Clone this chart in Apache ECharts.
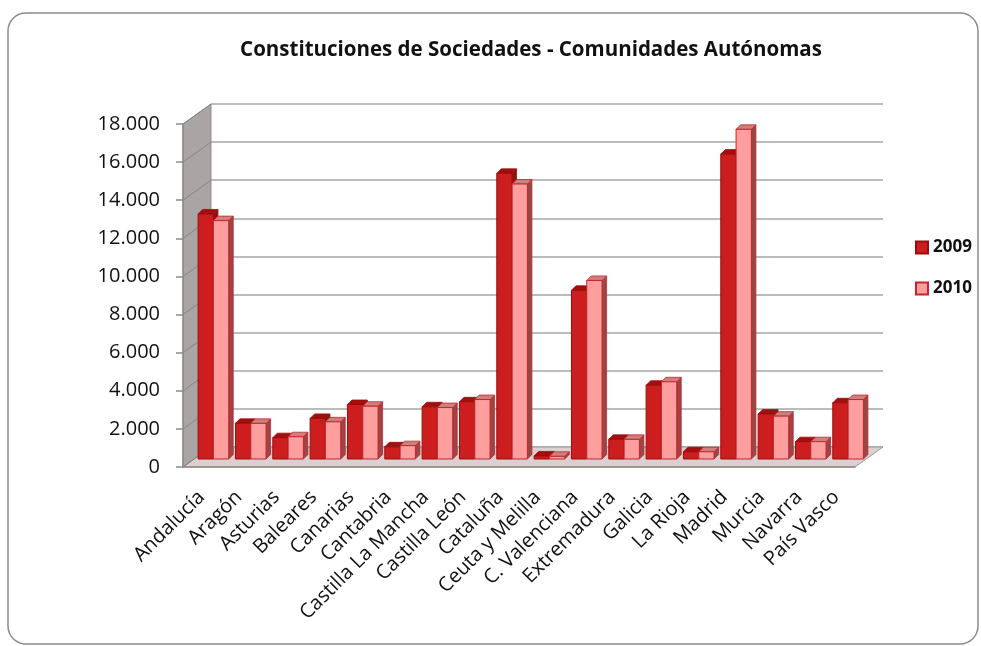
<!DOCTYPE html>
<html>
<head>
    <meta charset="utf-8">
    <title>Constituciones de Sociedades</title>
    <script src="https://cdn.jsdelivr.net/npm/echarts@6/dist/echarts.min.js"></script>
    <style>
        html, body { margin: 0; padding: 0; background: #fff; }
    </style>
</head>
<body>
    <div id="main" style="width: 981px;height:646px;"></div>
    <script type="text/javascript">
        // datos
        var categories = ['Andalucía', 'Aragón', 'Asturias', 'Baleares', 'Canarias', 'Cantabria',
            'Castilla La Mancha', 'Castilla León', 'Cataluña', 'Ceuta y Melilla', 'C. Valenciana',
            'Extremadura', 'Galicia', 'La Rioja', 'Madrid', 'Murcia', 'Navarra', 'País Vasco'];
        var years = ['2009', '2010'];
        var values2009 = [12860, 1870, 1120, 2130, 2860, 640, 2740, 3000, 14990, 160, 8850, 1030, 3870, 380, 16000, 2360, 910, 2950];
        var values2010 = [12510, 1870, 1170, 1950, 2770, 700, 2700, 3120, 14430, 140, 9370, 1030, 4050, 380, 17300, 2250, 910, 3120];
        var yMax = 18000, yStep = 2000;

        // layout (pseudo 3D): front plane, depth offset of the back wall
        var L = 183, T = 124, W = 672, H = 343;
        var DX = 28, DY = 20;           // back wall offset
        var MX = 14, MY = 8;            // bars plane offset

        var FONT = '"Open Sans", "Noto Sans", sans-serif';

        function fmt(v) {
            return String(v).replace(/\B(?=(\d{3})+(?!\d))/g, '.');
        }

        var looks = [
            { front: '#cc1e1e', stroke: '#9b0d0d', top: '#a30f0f', side: '#8a1414' },
            { front: '#ff9e9e', stroke: '#c3262b', top: '#cf7f7f', side: '#9c4545' }
        ];

        function makeRender(k) {
            var c = looks[k];
            return function (params, api) {
                var i = api.value(0), v = api.value(1);
                var base = api.coord([i, 0]);
                var top = api.coord([i, v]);
                var band = api.size([1, 0])[0];
                var w = band * 0.41;
                var d = 4.5;
                var x = base[0] - band / 2 + band * 0.03 + k * w;
                var y0 = base[1], y1 = top[1];
                return {
                    type: 'group',
                    children: [
                        { type: 'polygon', shape: { points: [[x + w, y1], [x + w + d, y1 - d], [x + w + d, y0 - d], [x + w, y0]] },
                          style: { fill: c.side, stroke: c.stroke, lineWidth: 0.8 } },
                        { type: 'polygon', shape: { points: [[x, y1], [x + d, y1 - d], [x + w + d, y1 - d], [x + w, y1]] },
                          style: { fill: c.top, stroke: c.stroke, lineWidth: 0.8 } },
                        { type: 'rect', shape: { x: x, y: y1, width: w, height: y0 - y1 },
                          style: { fill: c.front, stroke: c.stroke, lineWidth: 1 } }
                    ]
                };
            };
        }

        // walls and floor, built from the layout numbers
        var deco = [];
        deco.push({ type: 'rect', z: -10, shape: { x: 8, y: 13, width: 970, height: 631, r: 18 },
            style: { fill: '#fff', stroke: '#8c8c8c', lineWidth: 1.5 } });
        deco.push({ type: 'polygon', z: 1, shape: { points: [[L, T], [L + DX, T - DY], [L + DX, T + H - DY], [L, T + H]] },
            style: { fill: '#aba4a4', stroke: '#8e8e8e', lineWidth: 1 } });
        deco.push({ type: 'polygon', z: 1, shape: { points: [[L, T + H], [L + DX, T + H - DY], [L + W + DX, T + H - DY], [L + W, T + H]] },
            style: { fill: '#dccfcf', stroke: '#9a9a9a', lineWidth: 1 } });
        for (var v = 0; v <= yMax; v += yStep) {
            var yf = T + H - H * v / yMax;
            deco.push({ type: 'line', z: 1, shape: { x1: L, y1: yf, x2: L + DX, y2: yf - DY },
                style: { stroke: '#8a8484', lineWidth: 1 } });
        }

        var myChart = echarts.init(document.getElementById('main'));
        var option = {
            backgroundColor: '#fff',
            animation: false,
            title: {
                text: 'Constituciones de Sociedades - Comunidades Autónomas',
                left: 526, top: 35, textAlign: 'center',
                textStyle: { fontFamily: FONT, fontSize: 20.5, fontWeight: 'bold', color: '#111' }
            },
            legend: {
                orient: 'vertical',
                left: 910, top: 234,
                itemWidth: 12, itemHeight: 12, itemGap: 24,
                icon: 'rect',
                textStyle: { fontFamily: FONT, fontSize: 17, fontWeight: 'bold', color: '#111' },
                data: years
            },
            graphic: deco,
            grid: [
                { left: L + DX, top: T - DY, width: W, height: H },   // back wall
                { left: L, top: T, width: W, height: H },             // front axes
                { left: L + MX, top: T - MY, width: W, height: H }    // bars
            ],
            xAxis: [
                { gridIndex: 0, type: 'category', data: categories, show: false },
                {
                    gridIndex: 1, type: 'category', data: categories, z: 10,
                    axisLine: { lineStyle: { color: '#8c8c8c', width: 1.5 } },
                    axisTick: { length: 6, lineStyle: { color: '#8c8c8c', width: 1.5 } },
                    axisLabel: { rotate: 45, margin: 27, interval: 0, fontFamily: FONT, fontSize: 20, color: '#111' }
                },
                { gridIndex: 2, type: 'category', data: categories, show: false }
            ],
            yAxis: [
                {
                    gridIndex: 0, type: 'value', min: 0, max: yMax, interval: yStep,
                    axisLine: { show: false }, axisTick: { show: false }, axisLabel: { show: false },
                    splitLine: { lineStyle: { color: '#a6a6a6', width: 1.5 } }
                },
                {
                    gridIndex: 1, type: 'value', min: 0, max: yMax, interval: yStep, z: 10,
                    axisLine: { show: true, lineStyle: { color: '#8c8c8c', width: 1.5 } },
                    axisTick: { show: true, length: 7, lineStyle: { color: '#8c8c8c', width: 1.5 } },
                    axisLabel: { margin: 23, fontFamily: FONT, fontSize: 20, color: '#111', formatter: fmt },
                    splitLine: { show: false }
                },
                { gridIndex: 2, type: 'value', min: 0, max: yMax, interval: yStep, show: false }
            ],
            series: [
                {
                    name: years[0], type: 'custom', xAxisIndex: 2, yAxisIndex: 2, z: 5,
                    itemStyle: { color: looks[0].front, borderColor: looks[0].stroke, borderWidth: 1 },
                    renderItem: makeRender(0),
                    data: values2009.map(function (v, i) { return [i, v]; })
                },
                {
                    name: years[1], type: 'custom', xAxisIndex: 2, yAxisIndex: 2, z: 5,
                    itemStyle: { color: looks[1].front, borderColor: looks[1].stroke, borderWidth: 1 },
                    renderItem: makeRender(1),
                    data: values2010.map(function (v, i) { return [i, v]; })
                }
            ]
        };
        myChart.setOption(option);
    </script>
</body>
</html>
